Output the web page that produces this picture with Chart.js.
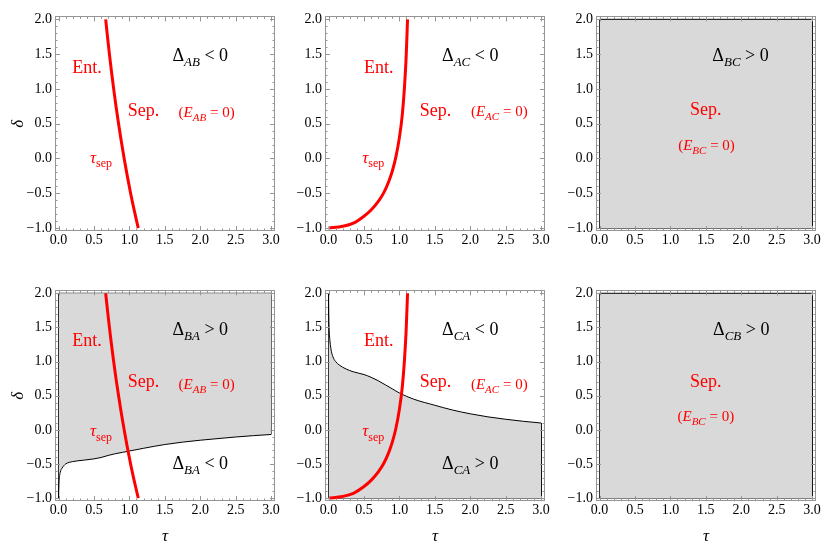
<!DOCTYPE html>
<html><head><meta charset="utf-8">
<script src="https://cdn.jsdelivr.net/npm/chart.js@4.4.1/dist/chart.umd.min.js"></script>
<style>
body{margin:0;background:#fff;}
#wrap{position:relative;width:822px;height:553px;overflow:hidden;background:#fff;}
.p{position:absolute;}
</style></head><body><div id="wrap"></div>
<script>
// ---------------- data ----------------
const tauTicks   = [0, 0.5, 1, 1.5, 2, 2.5, 3];
const deltaTicks = [-1, -0.5, 0, 0.5, 1, 1.5, 2];

// tau_sep boundary for the A|B bipartition
const sepABTau   = [0.665, 0.691, 0.718, 0.747, 0.778, 0.811, 0.847, 0.885, 0.926, 0.970, 1.017, 1.069, 1.125];
const sepABDelta = [2, 1.75, 1.5, 1.25, 1, 0.75, 0.5, 0.25, 0, -0.25, -0.5, -0.75, -1];

// tau_sep boundary for the A|C bipartition
const sepACTau   = [0, 0.2, 0.35, 0.5, 0.6, 0.7, 0.78, 0.85, 0.9, 0.95, 1.0, 1.04, 1.07, 1.095, 1.115];
const sepACDelta = [-1, -0.975, -0.93, -0.83, -0.74, -0.62, -0.49, -0.33, -0.18, 0.02, 0.3, 0.62, 1.0, 1.45, 2.0];

// Delta_BA = 0 boundary (gray above)
const dBATau   = [0, 0.003, 0.01, 0.025, 0.05, 0.1, 0.2, 0.35, 0.5, 0.6, 0.7, 0.8, 0.9, 1.0, 1.2, 1.5, 1.75, 2.0, 2.25, 2.5, 2.75, 3.0];
const dBADelta = [-1, -0.85, -0.72, -0.62, -0.56, -0.5, -0.465, -0.445, -0.425, -0.405, -0.375, -0.35, -0.33, -0.31, -0.27, -0.215, -0.18, -0.152, -0.128, -0.105, -0.085, -0.068];

// Delta_CA = 0 boundary (gray below)
const dCATau   = [0, 0.003, 0.01, 0.02, 0.04, 0.07, 0.1, 0.15, 0.25, 0.35, 0.5, 0.6, 0.7, 0.8, 0.9, 1.0, 1.2, 1.5, 1.75, 2.0, 2.25, 2.5, 2.75, 3.0];
const dCADelta = [2, 1.7, 1.45, 1.3, 1.15, 1.05, 1.0, 0.95, 0.89, 0.85, 0.81, 0.77, 0.72, 0.66, 0.6, 0.54, 0.45, 0.36, 0.29, 0.235, 0.19, 0.155, 0.125, 0.1];

// ---------------- helpers ----------------
const TAU_MIN = tauTicks[0], TAU_MAX = tauTicks[tauTicks.length-1];
const D_MIN = deltaTicks[0], D_MAX = deltaTicks[deltaTicks.length-1];
const zip = (xs, ys) => xs.map((x, i) => ({x, y: ys[i]}));
const fmt = v => (v < 0 ? '\u2212' : '') + Math.abs(v).toFixed(1);
const SERIF = '"Liberation Serif", "DejaVu Serif", serif';
const RED = '#ff0000', GRAY = '#d9d9d9';

const dLab = (pair, sign) => [{t:'\u0394'}, {t:pair, sub:1, it:1}, {t:' ' + sign + ' 0'}];
const eLab = pair => [{t:'('}, {t:'E', it:1}, {t:pair, sub:1, it:1}, {t:' = 0)'}];
const tLab = [{t:'\u03c4', it:1}, {t:'sep', sub:1}];

const panels = [
  {col:0,row:0, sep:[sepABTau,sepABDelta], region:null,
   labels:[[dLab('AB','<'),2.0,1.48,18,'#000'],[[{t:'Ent.'}],0.40,1.32,18,RED],[[{t:'Sep.'}],1.20,0.70,18,RED],[eLab('AB'),2.09,0.67,15,RED],[tLab,0.60,0.02,17,RED]]},
  {col:1,row:0, sep:[sepACTau,sepACDelta], region:null,
   labels:[[dLab('AC','<'),2.0,1.48,18,'#000'],[[{t:'Ent.'}],0.71,1.32,18,RED],[[{t:'Sep.'}],1.51,0.70,18,RED],[eLab('AC'),2.41,0.68,15,RED],[tLab,0.63,0.02,17,RED]]},
  {col:2,row:0, sep:null, region:'all',
   labels:[[dLab('BC','>'),1.99,1.48,18,'#000'],[[{t:'Sep.'}],1.50,0.71,18,RED],[eLab('BC'),1.51,0.20,15,RED]]},
  {col:0,row:1, sep:[sepABTau,sepABDelta], region:'above', curve:[dBATau,dBADelta],
   labels:[[dLab('BA','>'),2.0,1.48,18,'#000'],[[{t:'Ent.'}],0.40,1.32,18,RED],[[{t:'Sep.'}],1.20,0.71,18,RED],[eLab('AB'),2.09,0.67,15,RED],[tLab,0.60,-0.01,17,RED],[dLab('BA','<'),2.0,-0.49,18,'#000']]},
  {col:1,row:1, sep:[sepACTau,sepACDelta], region:'below', curve:[dCATau,dCADelta],
   labels:[[dLab('CA','<'),2.0,1.48,18,'#000'],[[{t:'Ent.'}],0.71,1.32,18,RED],[[{t:'Sep.'}],1.51,0.71,18,RED],[eLab('AC'),2.41,0.67,15,RED],[tLab,0.63,-0.01,17,RED],[dLab('CA','>'),2.0,-0.49,18,'#000']]},
  {col:2,row:1, sep:null, region:'all',
   labels:[[dLab('CB','>'),2.0,1.48,18,'#000'],[[{t:'Sep.'}],1.50,0.71,18,RED],[eLab('BC'),1.50,0.20,15,RED]]}
];

// layout (pixels)
const FRAME_LEFT = [55, 325, 596];
const FRAME_TOP = [11, 285];
const FRAME_H = [220, 216];
const FRAME_W = 220;
const Y_W = 55, PAD_T = 6, PAD_R = 8;
const X_H = [22, 46];

function fontStr(p, size) {
  const s = p.sub ? Math.round(size * 0.72) : size;
  return (p.it ? 'italic ' : '') + s + 'px ' + SERIF;
}
function drawRich(ctx, parts, cx, cy, size, color) {
  let w = 0;
  parts.forEach(p => { ctx.font = fontStr(p, size); w += ctx.measureText(p.t).width; });
  let x = cx - w / 2;
  const base = cy + size * 0.33;
  ctx.fillStyle = color;
  ctx.textAlign = 'left';
  ctx.textBaseline = 'alphabetic';
  parts.forEach(p => {
    ctx.font = fontStr(p, size);
    ctx.fillText(p.t, x, base + (p.sub ? size * 0.28 : 0));
    x += ctx.measureText(p.t).width;
  });
}

const framePlugin = {
  id: 'frameTicks',
  afterDatasetsDraw(chart) {
    const {ctx, chartArea: a, scales: {x, y}} = chart;
    ctx.save();
    ctx.strokeStyle = '#959595';
    ctx.lineWidth = 1;
    ctx.strokeRect(Math.round(a.left) + 0.5, Math.round(a.top) + 0.5, Math.round(a.right - a.left) - 1, Math.round(a.bottom - a.top) - 1);
    ctx.beginPath();
    const sub = ticks => { const out = []; for (let i = 0; i < ticks.length; i++) { out.push([ticks[i], true]); if (i < ticks.length - 1) for (let k = 1; k < 5; k++) out.push([ticks[i] + (ticks[i+1] - ticks[i]) * k / 5, false]); } return out; };
    sub(tauTicks).forEach(([v, major]) => {
      const L = major ? 5 : 2.5;
      const px = Math.round(x.getPixelForValue(v)) + 0.5;
      ctx.moveTo(px, a.bottom); ctx.lineTo(px, a.bottom - L);
      ctx.moveTo(px, a.top); ctx.lineTo(px, a.top + L);
    });
    sub(deltaTicks).forEach(([v, major]) => {
      const L = major ? 5 : 2.5;
      const py = Math.round(y.getPixelForValue(v)) + 0.5;
      ctx.moveTo(a.left, py); ctx.lineTo(a.left + L, py);
      ctx.moveTo(a.right, py); ctx.lineTo(a.right - L, py);
    });
    ctx.stroke();
    (chart.options.plugins.richLabels || []).forEach(([parts, tx, ty, size, color]) => {
      drawRich(ctx, parts, x.getPixelForValue(tx), y.getPixelForValue(ty), size, color);
    });
    ctx.restore();
  }
};

const wrap = document.getElementById('wrap');
panels.forEach(P => {
  const left = FRAME_LEFT[P.col] - Y_W, top = FRAME_TOP[P.row] - PAD_T;
  const W = Y_W + FRAME_W + PAD_R, H = PAD_T + FRAME_H[P.row] + X_H[P.row];
  const div = document.createElement('div');
  div.className = 'p';
  div.style.left = left + 'px'; div.style.top = top + 'px';
  div.style.width = W + 'px'; div.style.height = H + 'px';
  const cv = document.createElement('canvas');
  cv.width = W; cv.height = H;
  cv.style.width = W + 'px'; cv.style.height = H + 'px';
  div.appendChild(cv); wrap.appendChild(div);

  const datasets = [];
  if (P.sep) datasets.push({data: zip(P.sep[0], P.sep[1]), borderColor: RED, borderWidth: 3, showLine: true, pointRadius: 0, fill: false, cubicInterpolationMode: 'monotone', borderCapStyle: 'butt'});
  if (P.region === 'above' || P.region === 'below') {
    const c = zip(P.curve[0], P.curve[1]);
    const target = P.region === 'above' ? D_MAX : D_MIN;
    datasets.push({data: c, borderColor: '#000', borderWidth: 1, showLine: true, pointRadius: 0, fill: {value: target}, backgroundColor: GRAY, cubicInterpolationMode: 'monotone'});
    const last = c[c.length - 1], first = c[0];
    datasets.push({data: [last, {x: TAU_MAX, y: target}, {x: TAU_MIN, y: target}, first], borderColor: '#000', borderWidth: 1, showLine: true, pointRadius: 0, fill: false, tension: 0});
  }
  if (P.region === 'all') {
    datasets.push({data: [{x: TAU_MIN, y: D_MAX}, {x: TAU_MAX, y: D_MAX}], borderColor: '#000', borderWidth: 1, showLine: true, pointRadius: 0, fill: {value: D_MIN}, backgroundColor: GRAY});
    datasets.push({data: [{x: TAU_MAX, y: D_MAX}, {x: TAU_MAX, y: D_MIN}, {x: TAU_MIN, y: D_MIN}, {x: TAU_MIN, y: D_MAX}], borderColor: '#000', borderWidth: 1, showLine: true, pointRadius: 0, fill: false});
  }

  new Chart(cv, {
    type: 'scatter',
    data: {datasets},
    options: {
      responsive: false, animation: false, devicePixelRatio: 1,
      layout: {padding: {top: PAD_T, right: PAD_R, left: 0, bottom: 0}},
      plugins: {legend: {display: false}, tooltip: {enabled: false}, richLabels: P.labels},
      scales: {
        x: {
          type: 'linear', min: -0.05, max: 3.055,
          afterBuildTicks: s => { s.ticks = tauTicks.map(v => ({value: v})); },
          afterFit: s => { s.height = X_H[P.row]; },
          ticks: {callback: v => fmt(v), font: {family: SERIF, size: 14}, color: '#000', padding: 1, maxRotation: 0, autoSkip: false},
          grid: {display: false, drawTicks: false}, border: {display: false},
          title: {display: P.row === 1, text: '\u03c4', color: '#000', font: {family: SERIF, size: 17, style: 'italic'}, padding: {top: 0, bottom: 0}}
        },
        y: {
          type: 'linear', min: -1.042, max: 2.042,
          afterBuildTicks: s => { s.ticks = deltaTicks.map(v => ({value: v})); },
          afterFit: s => { s.width = Y_W; },
          ticks: {callback: v => fmt(v), font: {family: SERIF, size: 14}, color: '#000', padding: 3, autoSkip: false},
          grid: {display: false, drawTicks: false}, border: {display: false},
          title: {display: P.col === 0, text: '\u03b4', color: '#000', font: {family: SERIF, size: 17, style: 'italic'}, padding: {top: 8, bottom: 0}}
        }
      }
    },
    plugins: [framePlugin]
  });
});
</script></body></html>
